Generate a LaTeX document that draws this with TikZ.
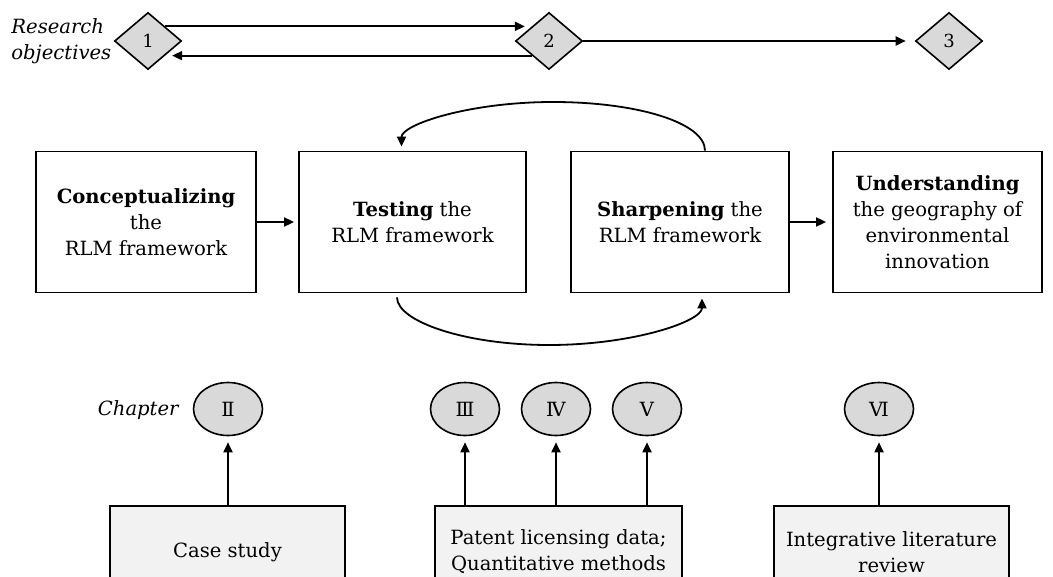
\documentclass[tikz,border=0pt]{standalone}
\usepackage{fontspec}
\setmainfont{DejaVu Serif}
\usetikzlibrary{arrows.meta, shapes.geometric, positioning}

\tikzset{
	stage/.style={draw, line width=0.9pt, align=center, minimum height=70.5pt, inner sep=2pt},
	objective/.style={diamond, draw, fill=gray!30, line width=0.8pt, minimum width=33.5pt, minimum height=28.5pt, inner sep=0pt, font=\small},
	chap/.style={ellipse, draw, fill=gray!30, line width=0.8pt, minimum width=34.5pt, minimum height=26.5pt, inner sep=0pt},
	method/.style={draw, fill=gray!10, line width=0.9pt, align=center, minimum height=46pt, inner sep=2pt},
	note/.style={font=\itshape, align=left, inner sep=0pt},
	arr/.style={-{Triangle[length=5pt,width=4.5pt]}, line width=0.9pt}
}

\begin{document}
\fontsize{9.8}{13}\selectfont
\begin{tikzpicture}[x=0.5pt, y=-0.5pt, on grid]
	\clip (0,0) rectangle (1053,577);
	
	% research objectives
	\node[objective] (o1) at (148,41) {1};
	\node[objective, right=200.5pt of o1] (o2) {2};
	\node[objective, right=200pt of o2] (o3) {3};
	\node[note, anchor=west] (objlbl) at (11,41) {Research\\objectives};
	
	% stages of the framework
	\node[stage, minimum width=110pt] (concept) at (146,222) {\textbf{Conceptualizing}\\the\\RLM framework};
	\node[stage, minimum width=113.5pt, right=133.25pt of concept] (test) {\textbf{Testing} the\\RLM framework};
	\node[stage, minimum width=109pt, right=133.75pt of test] (sharp) {\textbf{Sharpening} the\\RLM framework};
	\node[stage, minimum width=104.5pt, right=128.75pt of sharp] (geo) {\textbf{Understanding}\\the geography of\\environmental\\innovation};
	\coordinate (looptop) at (553,102);
	\coordinate (looplow) at (549,345);
	
	% chapters
	\node[chap] (ch2) at (228,409) {Ⅱ};
	\node[chap] (ch3) at (465,409) {Ⅲ};
	\node[chap, right=45.5pt of ch3] (ch4) {Ⅳ};
	\node[chap, right=45.5pt of ch4] (ch5) {V};
	\node[chap] (ch6) at (879,409) {Ⅵ};
	\node[note, anchor=east] (chlbl) at (179,410) {Chapter};
	
	% methods
	\node[method, minimum width=117.5pt] (case) at (227.5,552) {Case study};
	\node[method, minimum width=123.5pt] (patent) at (558.5,552) {Patent licensing data;\\Quantitative methods};
	\node[method, minimum width=117.5pt] (review) at (891.5,552) {Integrative literature\\review};
	
	\draw[arr, shorten >=3.5pt] (o1.north east) -- (o2.north west);
	\draw[arr, shorten >=3.5pt] (o2.south west) -- (o1.south east);
	\draw[arr, shorten >=4.5pt] (o2) -- (o3);
	
	\draw[arr, shorten >=2pt] (concept) -- (test);
	\draw[arr, shorten >=3pt] (sharp) -- (geo);
	\draw[arr, shorten >=2pt] ([xshift=12.5pt]sharp.north) .. controls +(0,-28) and +(84,0) .. (looptop)
		.. controls +(-84,0) and +(0,-26) .. ([xshift=-5.5pt]test.north);
	\draw[arr, shorten <=2pt, shorten >=2.5pt] ([xshift=-7.75pt]test.south) .. controls +(0,28) and +(-84,0) .. (looplow)
		.. controls +(84,0) and +(0,28) .. ([xshift=11pt]sharp.south);
	
	\draw[arr, shorten >=3pt] (ch2.south |- case.north) -- (ch2.south);
	\draw[arr, shorten >=3pt] (ch3.south |- patent.north) -- (ch3.south);
	\draw[arr, shorten >=3pt] (ch4.south |- patent.north) -- (ch4.south);
	\draw[arr, shorten >=3pt] (ch5.south |- patent.north) -- (ch5.south);
	\draw[arr, shorten >=3pt] (ch6.south |- review.north) -- (ch6.south);
\end{tikzpicture}
\end{document}
